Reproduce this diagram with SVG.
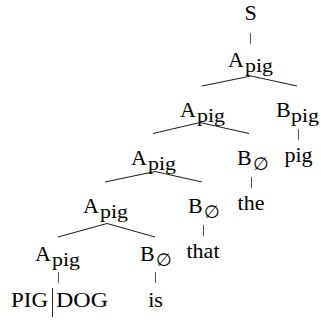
<svg xmlns="http://www.w3.org/2000/svg" width="321" height="320" viewBox="0 0 321 320">
<style>
.m{font-size:22px}
.s{font-size:18px}
.c{text-anchor:middle}
.e{stroke:#000;stroke-width:0.9;fill:none}
.v{stroke:#555;stroke-width:1;fill:none}
</style>
<rect width="321" height="320" fill="#fff"/>
<g id="connectors">
<line class="v" x1="250.5" y1="33" x2="250.5" y2="44"/>
<polyline class="e" points="202,86 251,76 297,86"/>
<line class="v" x1="298.5" y1="129" x2="298.5" y2="140"/>
<polyline class="e" points="153,133.5 200,122.5 249,133.5"/>
<line class="v" x1="251.5" y1="177" x2="251.5" y2="188"/>
<polyline class="e" points="105,182 155,171.5 202,182"/>
<line class="v" x1="203.5" y1="225" x2="203.5" y2="236"/>
<polyline class="e" points="58,237 107,223.5 155,237"/>
<line class="v" x1="58.5" y1="272" x2="58.5" y2="283"/>
<line class="v" x1="155.5" y1="272" x2="155.5" y2="283"/>
</g>
<g font-family="Liberation Serif, Times New Roman, Times, DejaVu Serif, serif" fill="#000">
<g id="n-S"><text class="m c" x="250.5" y="20">S</text></g>
<g id="n1-A"><text class="m" x="228" y="67">A</text><text class="s" x="245" y="72" textLength="28" lengthAdjust="spacingAndGlyphs">pig</text></g>
<g id="n2-A"><text class="m" x="180" y="117">A</text><text class="s" x="197" y="122" textLength="28" lengthAdjust="spacingAndGlyphs">pig</text></g>
<g id="n2-B"><text class="m" x="276" y="117">B</text><text class="s" x="291" y="122" textLength="28" lengthAdjust="spacingAndGlyphs">pig</text></g>
<g id="t-pig"><text class="m c" x="298.5" y="162">pig</text></g>
<g id="n3-A"><text class="m" x="131" y="164.5">A</text><text class="s" x="148" y="169.5" textLength="28" lengthAdjust="spacingAndGlyphs">pig</text></g>
<g id="n3-B"><text class="m" x="237" y="164.5">B</text><text class="s" x="253" y="169.5">∅</text></g>
<g id="t-the"><text class="m c" x="251" y="210">the</text></g>
<g id="n4-A"><text class="m" x="83" y="213">A</text><text class="s" x="100" y="218" textLength="28" lengthAdjust="spacingAndGlyphs">pig</text></g>
<g id="n4-B"><text class="m" x="188" y="213">B</text><text class="s" x="204" y="218">∅</text></g>
<g id="t-that"><text class="m c" x="203" y="258">that</text></g>
<g id="n5-A"><text class="m" x="35" y="261">A</text><text class="s" x="52" y="266" textLength="28" lengthAdjust="spacingAndGlyphs">pig</text></g>
<g id="n5-B"><text class="m" x="140" y="261">B</text><text class="s" x="156" y="266">∅</text></g>
<g id="t-is"><text class="m c" x="155.5" y="307">is</text></g>
<g id="t-pigdog"><text class="m" x="11" y="307" textLength="37" lengthAdjust="spacingAndGlyphs">PIG</text><line x1="52.5" y1="288" x2="52.5" y2="317" stroke="#222" stroke-width="1"/><text class="m" x="56" y="307" textLength="52" lengthAdjust="spacingAndGlyphs">DOG</text></g>
</g>
</svg>
